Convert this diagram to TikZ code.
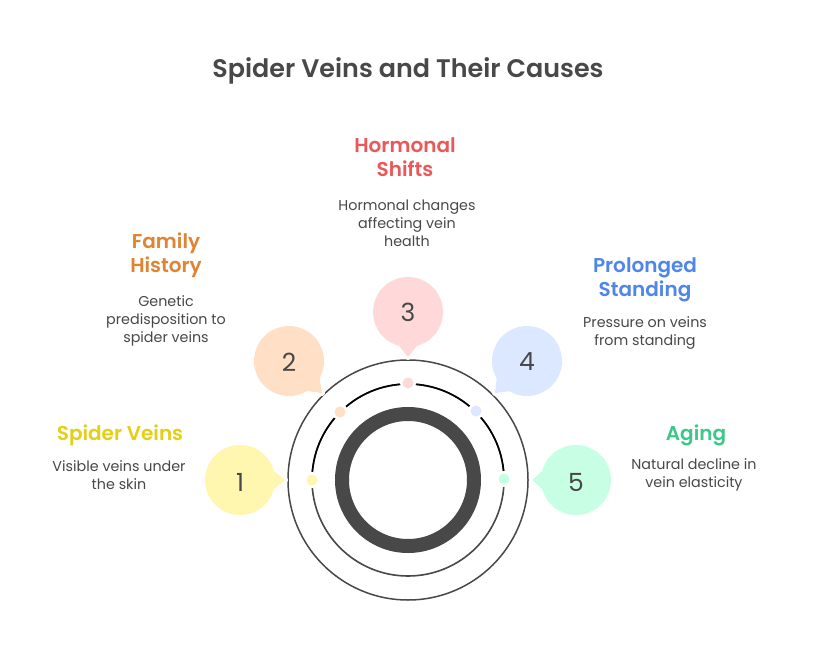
\documentclass[tikz,border=0pt]{standalone}
\usepackage{fontspec}
\setmainfont{Poppins}
\newfontfamily\headf{Poppins}[UprightFont=*-SemiBold]
\definecolor{ink}{HTML}{484848}
\definecolor{yl}{HTML}{FFF6B0}\definecolor{or}{HTML}{FFE0C6}\definecolor{rd}{HTML}{FFD9D9}\definecolor{bl}{HTML}{DCE8FF}\definecolor{gr}{HTML}{C6FFE4}
\definecolor{tyl}{HTML}{E3CF14}\definecolor{tor}{HTML}{E08432}\definecolor{trd}{HTML}{EC5757}\definecolor{tbl}{HTML}{4F86EA}\definecolor{tgr}{HTML}{3CC88A}
\tikzset{head/.style={font=\headf\fontsize{20}{24.5}\selectfont,align=center},
desc/.style={font=\fontsize{14.3}{18}\selectfont,text=ink,align=center},
num/.style={font=\fontsize{25}{28}\selectfont,text=ink}}
\begin{document}
\begin{tikzpicture}[x=1pt,y=-1pt]
\useasboundingbox[fill=white] (0,0) rectangle (816,660);
\coordinate (c) at (408,480);
\draw[ink,line width=1.5] (c) circle (120);
\draw[ink,line width=1.6] (c) circle (96);
\draw[black,line width=1.6] (312,480) arc[start angle=180,end angle=0,radius=96,y radius=-96];
\draw[ink,line width=14] (c) circle (66);
\foreach \n/\bx/\by/\ny/\px/\py/\dx/\dy/\col in {1/240/480/482/285/480/312/480/yl,2/289/361/362/322/393/340/412/or,3/408/312/312/408/357/408/383/rd,4/527/361/362/495/393/476/411/bl,5/576/480/482/532/480/504/479/gr}{
 \fill[white] (\px,\py) circle (3);
 \fill[\col] (\bx,\by) circle (35);
 \path (\bx,\by) ++ ({atan2(\py-\by,\px-\bx)+17}:34) coordinate (p1);
 \path (\bx,\by) ++ ({atan2(\py-\by,\px-\bx)-17}:34) coordinate (p2);
 \fill[\col] (p1) -- (\px,\py) -- (p2) -- cycle;
 \fill[white] (\dx,\dy) circle (8);
 \fill[\col] (\dx,\dy) circle (5.5);
 \node[num] (n\n) at (\bx,\ny) {\n};
}
\node[font=\headf\fontsize{25.4}{28}\selectfont,text=ink] (title) at (408,71) {Spider Veins and Their Causes};
\node[head,text=tyl] (h1) at (120,435) {Spider Veins};
\node[desc] (d1) at (119,475) {Visible veins under\\the skin};
\node[head,text=tor] (h2) at (166,255.5) {Family\\History};
\node[desc] (d2) at (166,321) {Genetic\\predisposition to\\spider veins};
\node[head,text=trd] (h3) at (405,157) {Hormonal\\Shifts};
\node[desc] (d3) at (407,223) {Hormonal changes\\affecting vein\\health};
\node[head,text=tbl] (h4) at (645,280) {Prolonged\\Standing};
\node[desc] (d4) at (645,333) {Pressure on veins\\from standing};
\node[head,text=tgr] (h5) at (696,435) {Aging};
\node[desc] (d5) at (694,475) {Natural decline in\\vein elasticity};
\end{tikzpicture}
\end{document}
